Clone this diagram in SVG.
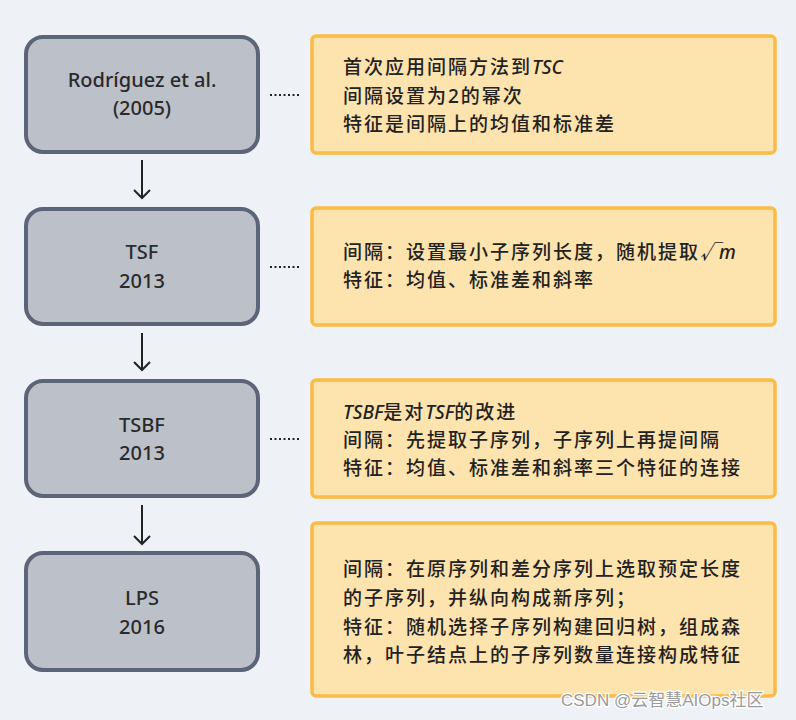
<svg xmlns="http://www.w3.org/2000/svg" width="796" height="720" viewBox="0 0 796 720">
<style>
.node{fill:#bcc0c9;stroke:#5b6577;stroke-width:4}
.note{fill:#fde3ad;stroke:#fbbb45;stroke-width:3.5}
.nt{font-family:"Noto Sans","Noto Sans CJK SC",sans-serif;font-size:20px;font-weight:500;fill:#2a2a2a;text-anchor:middle}
.bt{font-family:"Noto Sans","Noto Sans CJK SC",sans-serif;font-size:19px;font-weight:500;letter-spacing:2px;fill:#222}
.it{font-style:italic;letter-spacing:0}
.dot{stroke:#222;stroke-width:2;stroke-dasharray:2 2.5;fill:none}
.arr{stroke:#222;stroke-width:2;fill:none}
.wm{font-family:"Liberation Sans","Noto Sans CJK SC",sans-serif;font-size:17px;fill:#9a9a9a;stroke:#ffffff;stroke-width:2.5;paint-order:stroke}
</style>
<rect width="796" height="720" fill="#eef2f6"/>
<g id="connectors">
<line class="arr" x1="142" y1="160" x2="142" y2="198"/>
<path class="arr" d="M134,190 L142,198 L150,190"/>
<line class="arr" x1="142" y1="333" x2="142" y2="370"/>
<path class="arr" d="M134,362 L142,370 L150,362"/>
<line class="arr" x1="142" y1="505" x2="142" y2="544"/>
<path class="arr" d="M134,536 L142,544 L150,536"/>
<line class="dot" x1="270" y1="95" x2="299" y2="95"/>
<line class="dot" x1="270" y1="267" x2="299" y2="267"/>
<line class="dot" x1="270" y1="439" x2="299" y2="439"/>
</g>
<g id="n1">
<rect class="node" x="26" y="37" width="232" height="115" rx="17"/>
<text class="nt" x="142" y="87">Rodríguez et al.</text>
<text class="nt" x="142" y="115">(2005)</text>
</g>
<g id="n2">
<rect class="node" x="26" y="209" width="232" height="115" rx="17"/>
<text class="nt" x="142" y="259">TSF</text>
<text class="nt" x="142" y="288">2013</text>
</g>
<g id="n3">
<rect class="node" x="26" y="381" width="232" height="115" rx="17"/>
<text class="nt" x="142" y="432">TSBF</text>
<text class="nt" x="142" y="460">2013</text>
</g>
<g id="n4">
<rect class="node" x="26" y="553" width="232" height="117" rx="17"/>
<text class="nt" x="142" y="605">LPS</text>
<text class="nt" x="142" y="634">2016</text>
</g>
<g id="b1">
<rect class="note" x="312" y="36" width="463" height="117" rx="4"/>
<text class="bt" x="343" y="74">首次应用间隔方法到<tspan class="it">TSC</tspan></text>
<text class="bt" x="343" y="103">间隔设置为2的幂次</text>
<text class="bt" x="343" y="131">特征是间隔上的均值和标准差</text>
</g>
<g id="b2">
<rect class="note" x="312" y="208" width="463" height="117" rx="4"/>
<text class="bt" x="343" y="259">间隔：设置最小子序列长度，随机提取<tspan class="it">√m</tspan></text>
<text class="bt" x="343" y="287">特征：均值、标准差和斜率</text>
</g>
<g id="b3">
<rect class="note" x="312" y="380" width="463" height="117" rx="4"/>
<text class="bt" x="343" y="419"><tspan class="it">TSBF</tspan>是对<tspan class="it">TSF</tspan>的改进</text>
<text class="bt" x="343" y="447">间隔：先提取子序列，子序列上再提间隔</text>
<text class="bt" x="343" y="475">特征：均值、标准差和斜率三个特征的连接</text>
</g>
<g id="b4">
<rect class="note" x="312" y="523" width="463" height="173" rx="4"/>
<text class="bt" x="343" y="576">间隔：在原序列和差分序列上选取预定长度</text>
<text class="bt" x="343" y="605">的子序列，并纵向构成新序列；</text>
<text class="bt" x="343" y="634">特征：随机选择子序列构建回归树，组成森</text>
<text class="bt" x="343" y="662">林，叶子结点上的子序列数量连接构成特征</text>
</g>
<text class="wm" x="561" y="706">CSDN @云智慧AIOps社区</text>
</svg>
